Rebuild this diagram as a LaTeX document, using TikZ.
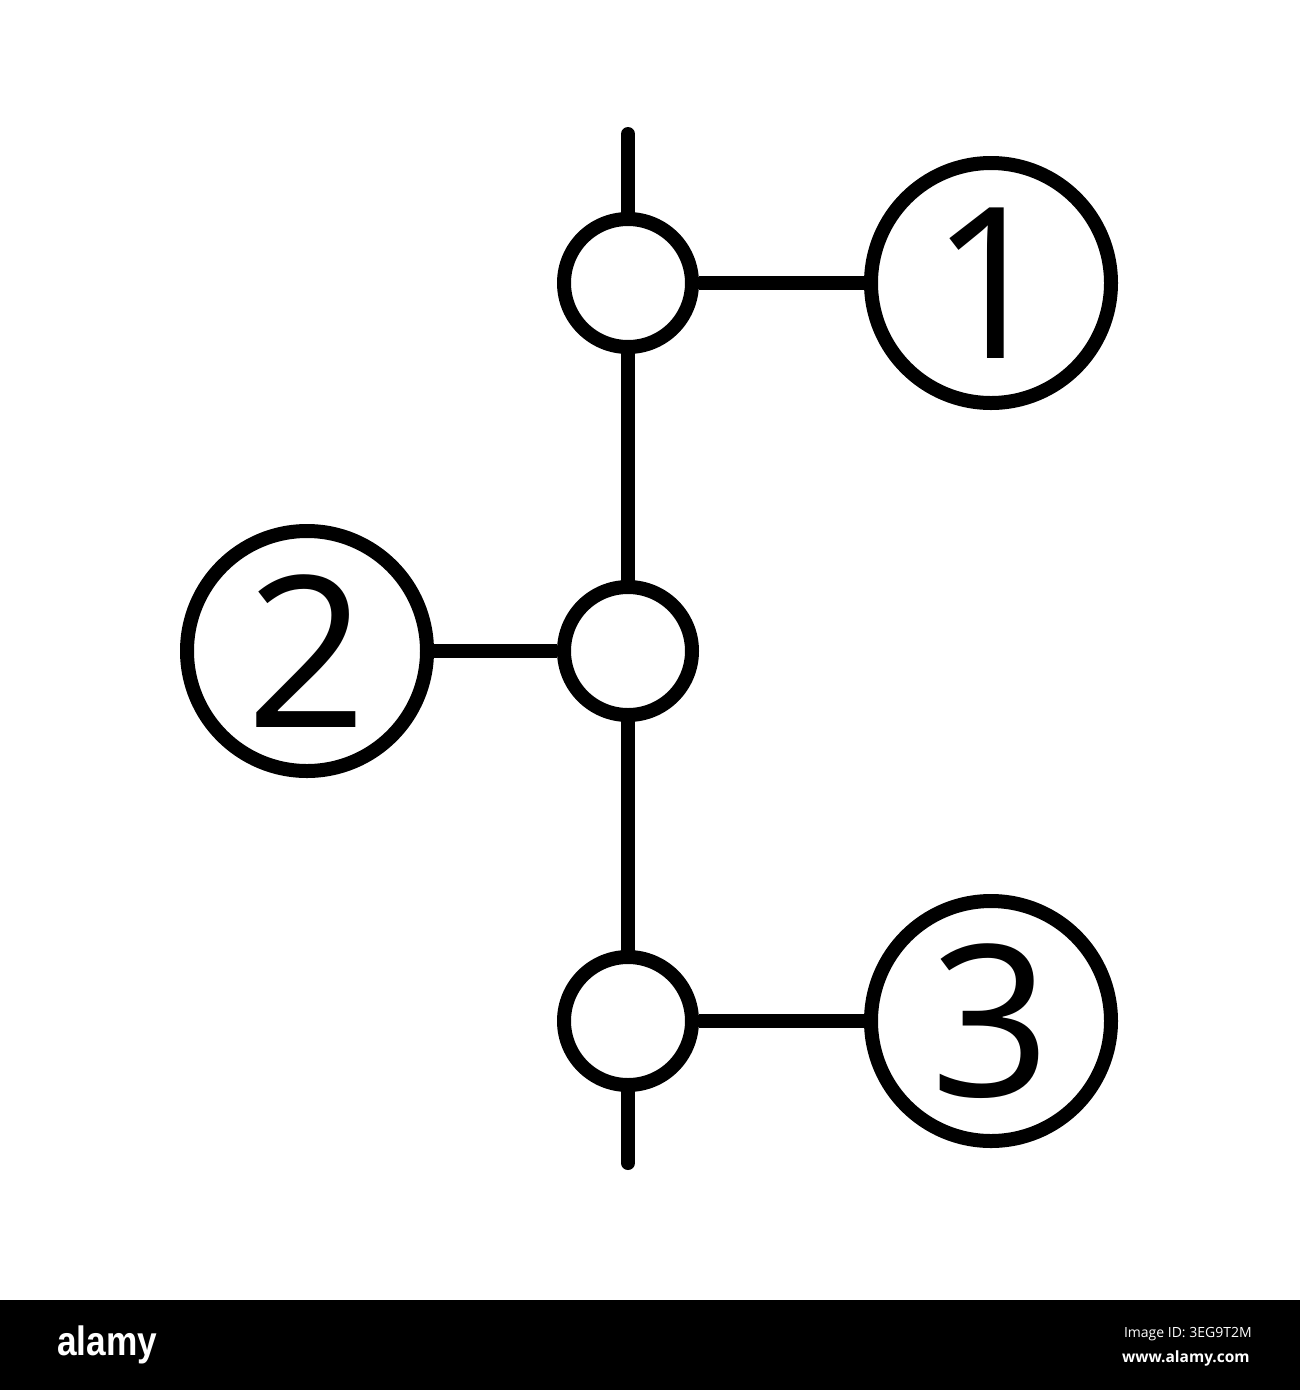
\documentclass[tikz,border=0pt]{standalone}
\usepackage{fontspec}
\newfontfamily\digitfont{Open Sans}
\newfontfamily\wmfont{Open Sans}
\newfontfamily\logofont{Liberation Sans}
\begin{document}
\begin{tikzpicture}[x=1pt,y=-1pt,
  line width=14pt,
  conn/.style={draw=black,line width=14pt,line cap=round},
  hub/.style={circle,draw=black,line width=14pt,fill=white,minimum size=128pt,inner sep=0pt},
  numcirc/.style={circle,draw=black,line width=14pt,fill=white,minimum size=240pt,inner sep=0pt,
    font=\digitfont\fontsize{211}{211}\selectfont},
  wmtext/.style={text=white,inner sep=0pt}
]
\useasboundingbox (0,0) rectangle (1300,1390);
\fill[white] (0,0) rectangle (1300,1390);

\coordinate (top) at (628,134);
\coordinate (bot) at (628,1163);

\node[hub] (s1) at (628,283) {};
\node[hub] (s2) at (628,651) {};
\node[hub] (s3) at (628,1021) {};

\node[numcirc] (b1) at (991,283) {1};
\node[numcirc] (b2) at (307,651) {2};
\node[numcirc] (b3) at (991,1021) {3};

\draw[conn] (top) -- (s1);
\draw[conn] (s1) -- (s2);
\draw[conn] (s2) -- (s3);
\draw[conn] (s3) -- (bot);
\draw[line width=14pt] (s1) -- (b1);
\draw[line width=14pt] (s2) -- (b2);
\draw[line width=14pt] (s3) -- (b3);

% watermark bar
\fill[black] (0,1300) rectangle (1300,1390);
\node[wmtext,anchor=base west] (logo) at (50,1355)
  {\scalebox{0.86}[1]{\logofont\bfseries\fontsize{41}{41}\selectfont alamy}};
\node[wmtext,anchor=base west] (imgid) at (1117,1337)
  {\wmfont\fontsize{14}{14}\selectfont Image ID: 3EG9T2M};
\node[wmtext,anchor=base west] (site) at (1115,1362)
  {\wmfont\bfseries\fontsize{15.5}{15.5}\selectfont www.alamy.com};
\end{tikzpicture}
\end{document}
